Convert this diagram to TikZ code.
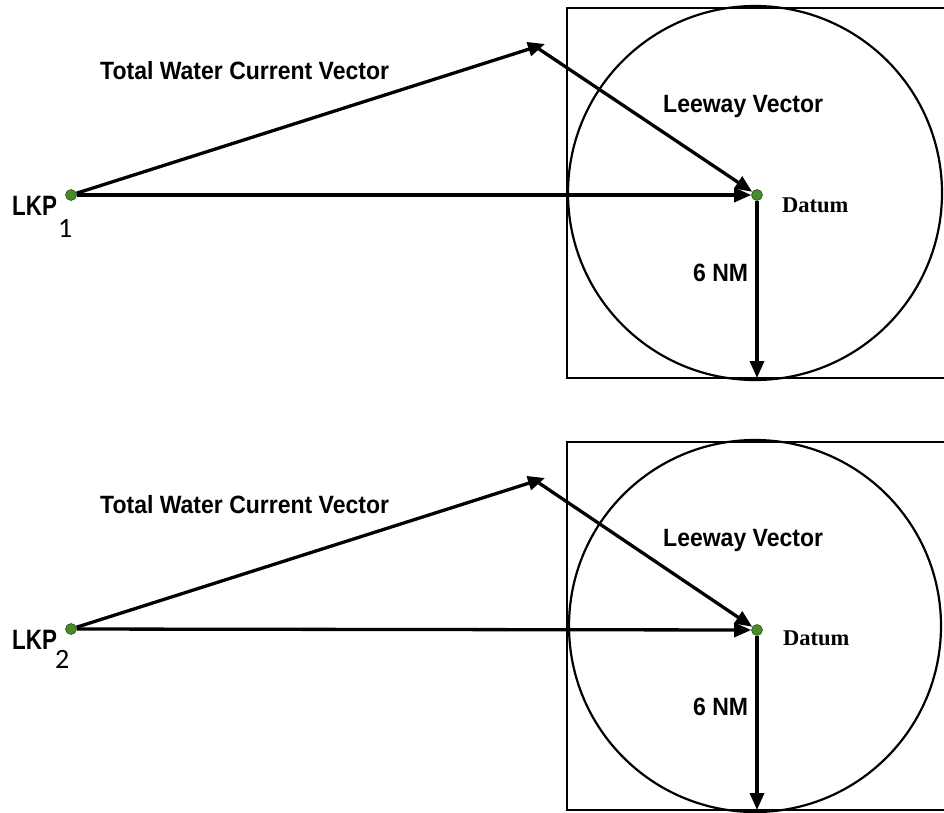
\documentclass[tikz,border=0pt]{standalone}
\usepackage{fontspec}
\newfontfamily\lblfont{Liberation Sans}[FakeStretch=0.92]
\newfontfamily\lkpfont{Liberation Sans}[FakeStretch=0.8]
\newfontfamily\subfont{Carlito}
\newfontfamily\datfont{Liberation Serif}
\usetikzlibrary{arrows.meta,positioning}
\definecolor{dotgreen}{RGB}{70,140,40}
\tikzset{
  vec/.style={-{Triangle[length=17pt,width=14pt]}, line width=3.3pt},
  zone/.style={draw, line width=2.6pt},
  drift/.style={draw, line width=2.2pt},
  posdot/.style={circle, fill=dotgreen, draw=dotgreen!60!black, line width=0.6pt, inner sep=0pt, minimum size=11pt},
  lbl/.style={font=\lblfont\bfseries\fontsize{25}{28}\selectfont, inner sep=0pt, anchor=base west},
  lkp/.style={font=\lkpfont\bfseries\fontsize{28}{30}\selectfont, inner sep=0pt, anchor=base west},
  sub/.style={font=\subfont\fontsize{28}{30}\selectfont, inner sep=0pt, anchor=base west},
  dat/.style={font=\datfont\bfseries\fontsize{22.5}{25}\selectfont, inner sep=0pt, anchor=base west}
}
\begin{document}
\begin{tikzpicture}[x=1pt, y=-1pt]
\useasboundingbox (0,0) rectangle (944,812);
\clip (0,0) rectangle (944,812);

% first case
\draw[zone] (567,8) rectangle (950,378);
\draw[drift] (755,193) circle (187);
\node[posdot] (lkpa) at (71,195) {};
\node[posdot] (datuma) at (757,195) {};
\coordinate (tipa) at (545,44);
\coordinate (lwya) at (539,49);
\coordinate (edgea) at (757,378);
\draw[vec] (lkpa) -- (tipa);
\draw[vec] (lwya) -- (datuma);
\draw[vec] (lkpa) -- (datuma);
\draw[vec] (datuma) -- (edgea);
\node[lbl] (twca) at (100,79) {Total Water Current Vector};
\node[lbl] (leea) at (663,112) {Leeway Vector};
\node[lbl] (nma) at (693,281) {6 NM};
\node[dat] (data) at (782,212) {Datum};
\node[lkp] (lkptxta) at (12,215) {LKP};
\node[sub] (suba) at (58,237) {1};

% second case
\draw[zone] (567,442) rectangle (950,810);
\draw[drift] (755,626) circle (186);
\node[posdot] (lkpb) at (71,629) {};
\node[posdot] (datumb) at (757,630) {};
\coordinate (tipb) at (545,478);
\coordinate (lwyb) at (539,483);
\coordinate (edgeb) at (757,810);
\draw[vec] (lkpb) -- (tipb);
\draw[vec] (lwyb) -- (datumb);
\draw[vec] (lkpb) -- (datumb);
\draw[vec] (datumb) -- (edgeb);
\node[lbl] (twcb) at (100,513) {Total Water Current Vector};
\node[lbl] (leeb) at (663,546) {Leeway Vector};
\node[lbl] (nmb) at (693,715) {6 NM};
\node[dat] (datb) at (783,645) {Datum};
\node[lkp] (lkptxtb) at (12,649) {LKP};
\node[sub] (subb) at (55,668) {2};
\end{tikzpicture}
\end{document}
